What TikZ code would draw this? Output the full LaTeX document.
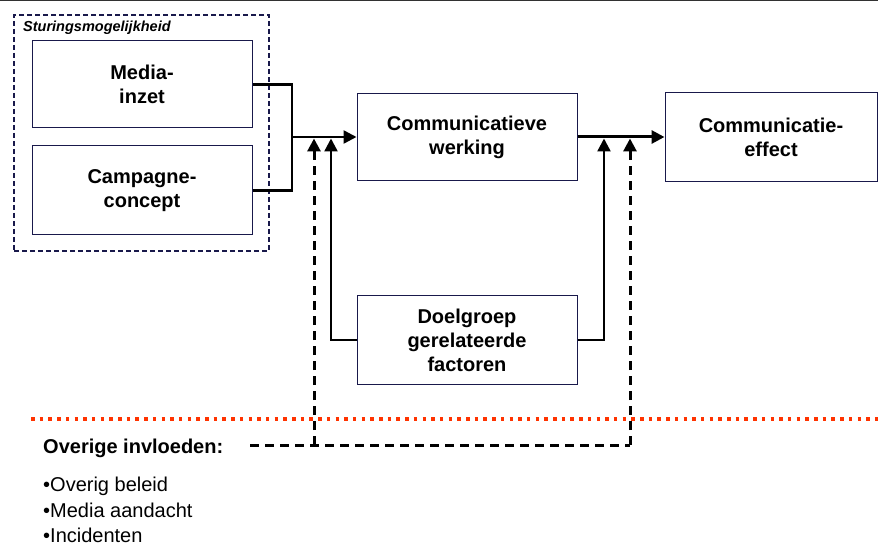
\documentclass[tikz,border=0pt]{standalone}
\usepackage{fontspec}
\setmainfont{Liberation Sans}
\usetikzlibrary{arrows.meta}
\definecolor{navy}{RGB}{25,25,75}
\definecolor{redorange}{RGB}{255,51,0}
\definecolor{topgray}{RGB}{50,50,50}
\begin{document}
\begin{tikzpicture}[x=1pt,y=-1pt,
  box/.style={draw=navy, line width=1pt, fill=white, align=center,
    font=\bfseries\fontsize{20}{24}\selectfont, inner sep=0pt},
  conn/.style={line width=2.4pt, draw=black},
  tip/.style={-{Triangle[length=13pt,width=13pt]}},
  dsh/.style={line width=3pt, dash pattern=on 9pt off 6pt},
  plain/.style={anchor=base west, inner sep=0pt, font=\fontsize{20}{24}\selectfont},
]
\useasboundingbox (0,0) rectangle (878,545);
\draw[topgray, line width=2.5pt] (0,0) -- (878,0);

% group box
\node[draw=navy, line width=1.8pt, dash pattern=on 5pt off 3pt,
      minimum width=255pt, minimum height=236pt, inner sep=0pt] (sturing) at (141.5,133) {};
\node[anchor=base west, inner sep=0pt, font=\bfseries\itshape\fontsize{14.5}{17}\selectfont]
      (sturlabel) at (23,32) {Sturingsmogelijkheid};

% boxes
\node[box, minimum width=220pt, minimum height=87pt] (media) at (142,84.5) {Media-\\inzet};
\node[box, minimum width=220pt, minimum height=89pt] (campagne) at (142,190.5) {Campagne-\\concept};
\node[box, minimum width=220pt, minimum height=87pt] (werking) at (467,137) {Communicatieve\\werking};
\node[box, minimum width=212pt, minimum height=89pt] (effect) at (771,137) {Communicatie-\\effect};
\node[box, minimum width=220pt, minimum height=88pt] (doelgroep) at (467,340) {Doelgroep\\gerelateerde\\factoren};

% red dotted separator
\draw[redorange, line width=3.5pt, dash pattern=on 3.5pt off 5.2pt] (31,419) -- (878,419);

% solid connectors
\coordinate (j1) at (292,137);
\coordinate (tL) at (331,138.5);
\coordinate (tR) at (604,138.5);
\draw[conn] (media.east) -| (j1);
\draw[conn] (campagne.east) -| (j1);
\draw[conn,tip] (j1) -- (werking.west);
\draw[conn,tip] (doelgroep.west) -| (tL);
\draw[conn,tip] (doelgroep.east) -| (tR);
\draw[conn,line width=3pt,tip] (werking.east) -- (effect.west);

% other influences
\node[plain, font=\bfseries\fontsize{20}{24}\selectfont] (overige) at (43,453) {Overige invloeden:};
\node[plain] (b1) at (43,491) {•Overig beleid};
\node[plain] (b2) at (43,517) {•Media aandacht};
\node[plain] (b3) at (43,542) {•Incidenten};

% dashed connectors
\coordinate (dstart) at (250,445);
\coordinate (dleft) at (314,445);
\coordinate (dright) at (630,445);
\coordinate (dtL) at (314,138.5);
\coordinate (dtR) at (630,138.5);
\draw[dsh] (dstart) -- (dright);
\draw[dsh,tip] (dleft) -- (dtL);
\draw[dsh,tip] (dright) -- (dtR);
\end{tikzpicture}
\end{document}
